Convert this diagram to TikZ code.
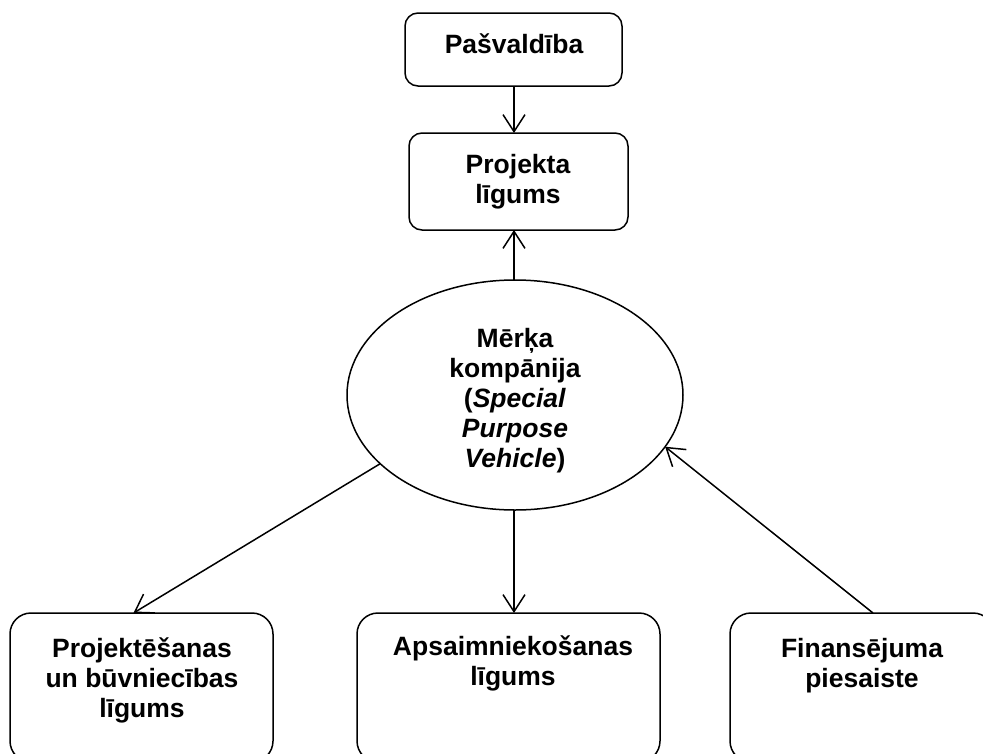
\documentclass[tikz,border=0pt]{standalone}
\usepackage{fontspec}
\setmainfont{Liberation Sans}
\usetikzlibrary{arrows.meta,shapes.geometric}
\begin{document}
\begin{tikzpicture}[x=1pt,y=-1pt,
  every node/.style={inner sep=0pt, outer sep=0pt},
  txt/.style={font=\fontsize{26.5}{30}\selectfont\bfseries, align=center, anchor=north},
  topbox/.style={draw, line width=1.5pt, rounded corners=13pt, rectangle},
  lowbox/.style={draw, line width=1.5pt, rounded corners=21pt, rectangle, minimum height=149pt},
  oval/.style={draw, line width=1.5pt, ellipse, minimum width=336pt, minimum height=230pt},
  link/.style={line width=1.5pt, -{Straight Barb[length=17pt,width=22pt,line width=1.5pt]}}
]
\useasboundingbox (0,0) rectangle (983,753);
\begin{scope}
\clip (0,0) rectangle (983,753);

% upper boxes
\node[topbox, minimum width=217pt, minimum height=73pt] (pas) at (513.5,49.5) {};
\node[topbox, minimum width=219pt, minimum height=97pt] (proj) at (518.5,181.5) {};
\node[txt] (pasT) at (514,32) {\strut Pašvaldība};
\node[txt] (projT) at (518,152) {\strut Projekta\\līgums};

% special purpose vehicle
\node[oval] (spv) at (515,395) {};
\node[txt] (spvT) at (515,326) {\strut Mērķa\\kompānija\\(\textit{Special}\\\textit{Purpose}\\\textit{Vehicle})};

% lower boxes
\node[lowbox, minimum width=263pt] (lb) at (141.5,687.5) {};
\node[lowbox, minimum width=303pt] (mb) at (508.5,687.5) {};
\node[lowbox, minimum width=264pt] (rb) at (862,687.5) {};
\node[txt] (lbT) at (142,636) {\strut Projektēšanas\\un būvniecības\\līgums};
\node[txt] (mbT) at (513,634) {\strut Apsaimniekošanas\\līgums};
\node[txt] (rbT) at (862,636) {\strut Finansējuma\\piesaiste};

% connectors
\draw[link] (pas.south -| 514,0) -- (514,0 |- proj.north);
\draw[link] (spv.north -| 514,0) -- (514,0 |- proj.south);
\draw[link] (spv.207) -- ([xshift=-8pt]lb.north);
\draw[link] (spv.south -| 514,0) -- (514,0 |- mb.north);
\draw[link] ([xshift=11pt]rb.north) -- (spv.-19);
\end{scope}
\end{tikzpicture}
\end{document}
